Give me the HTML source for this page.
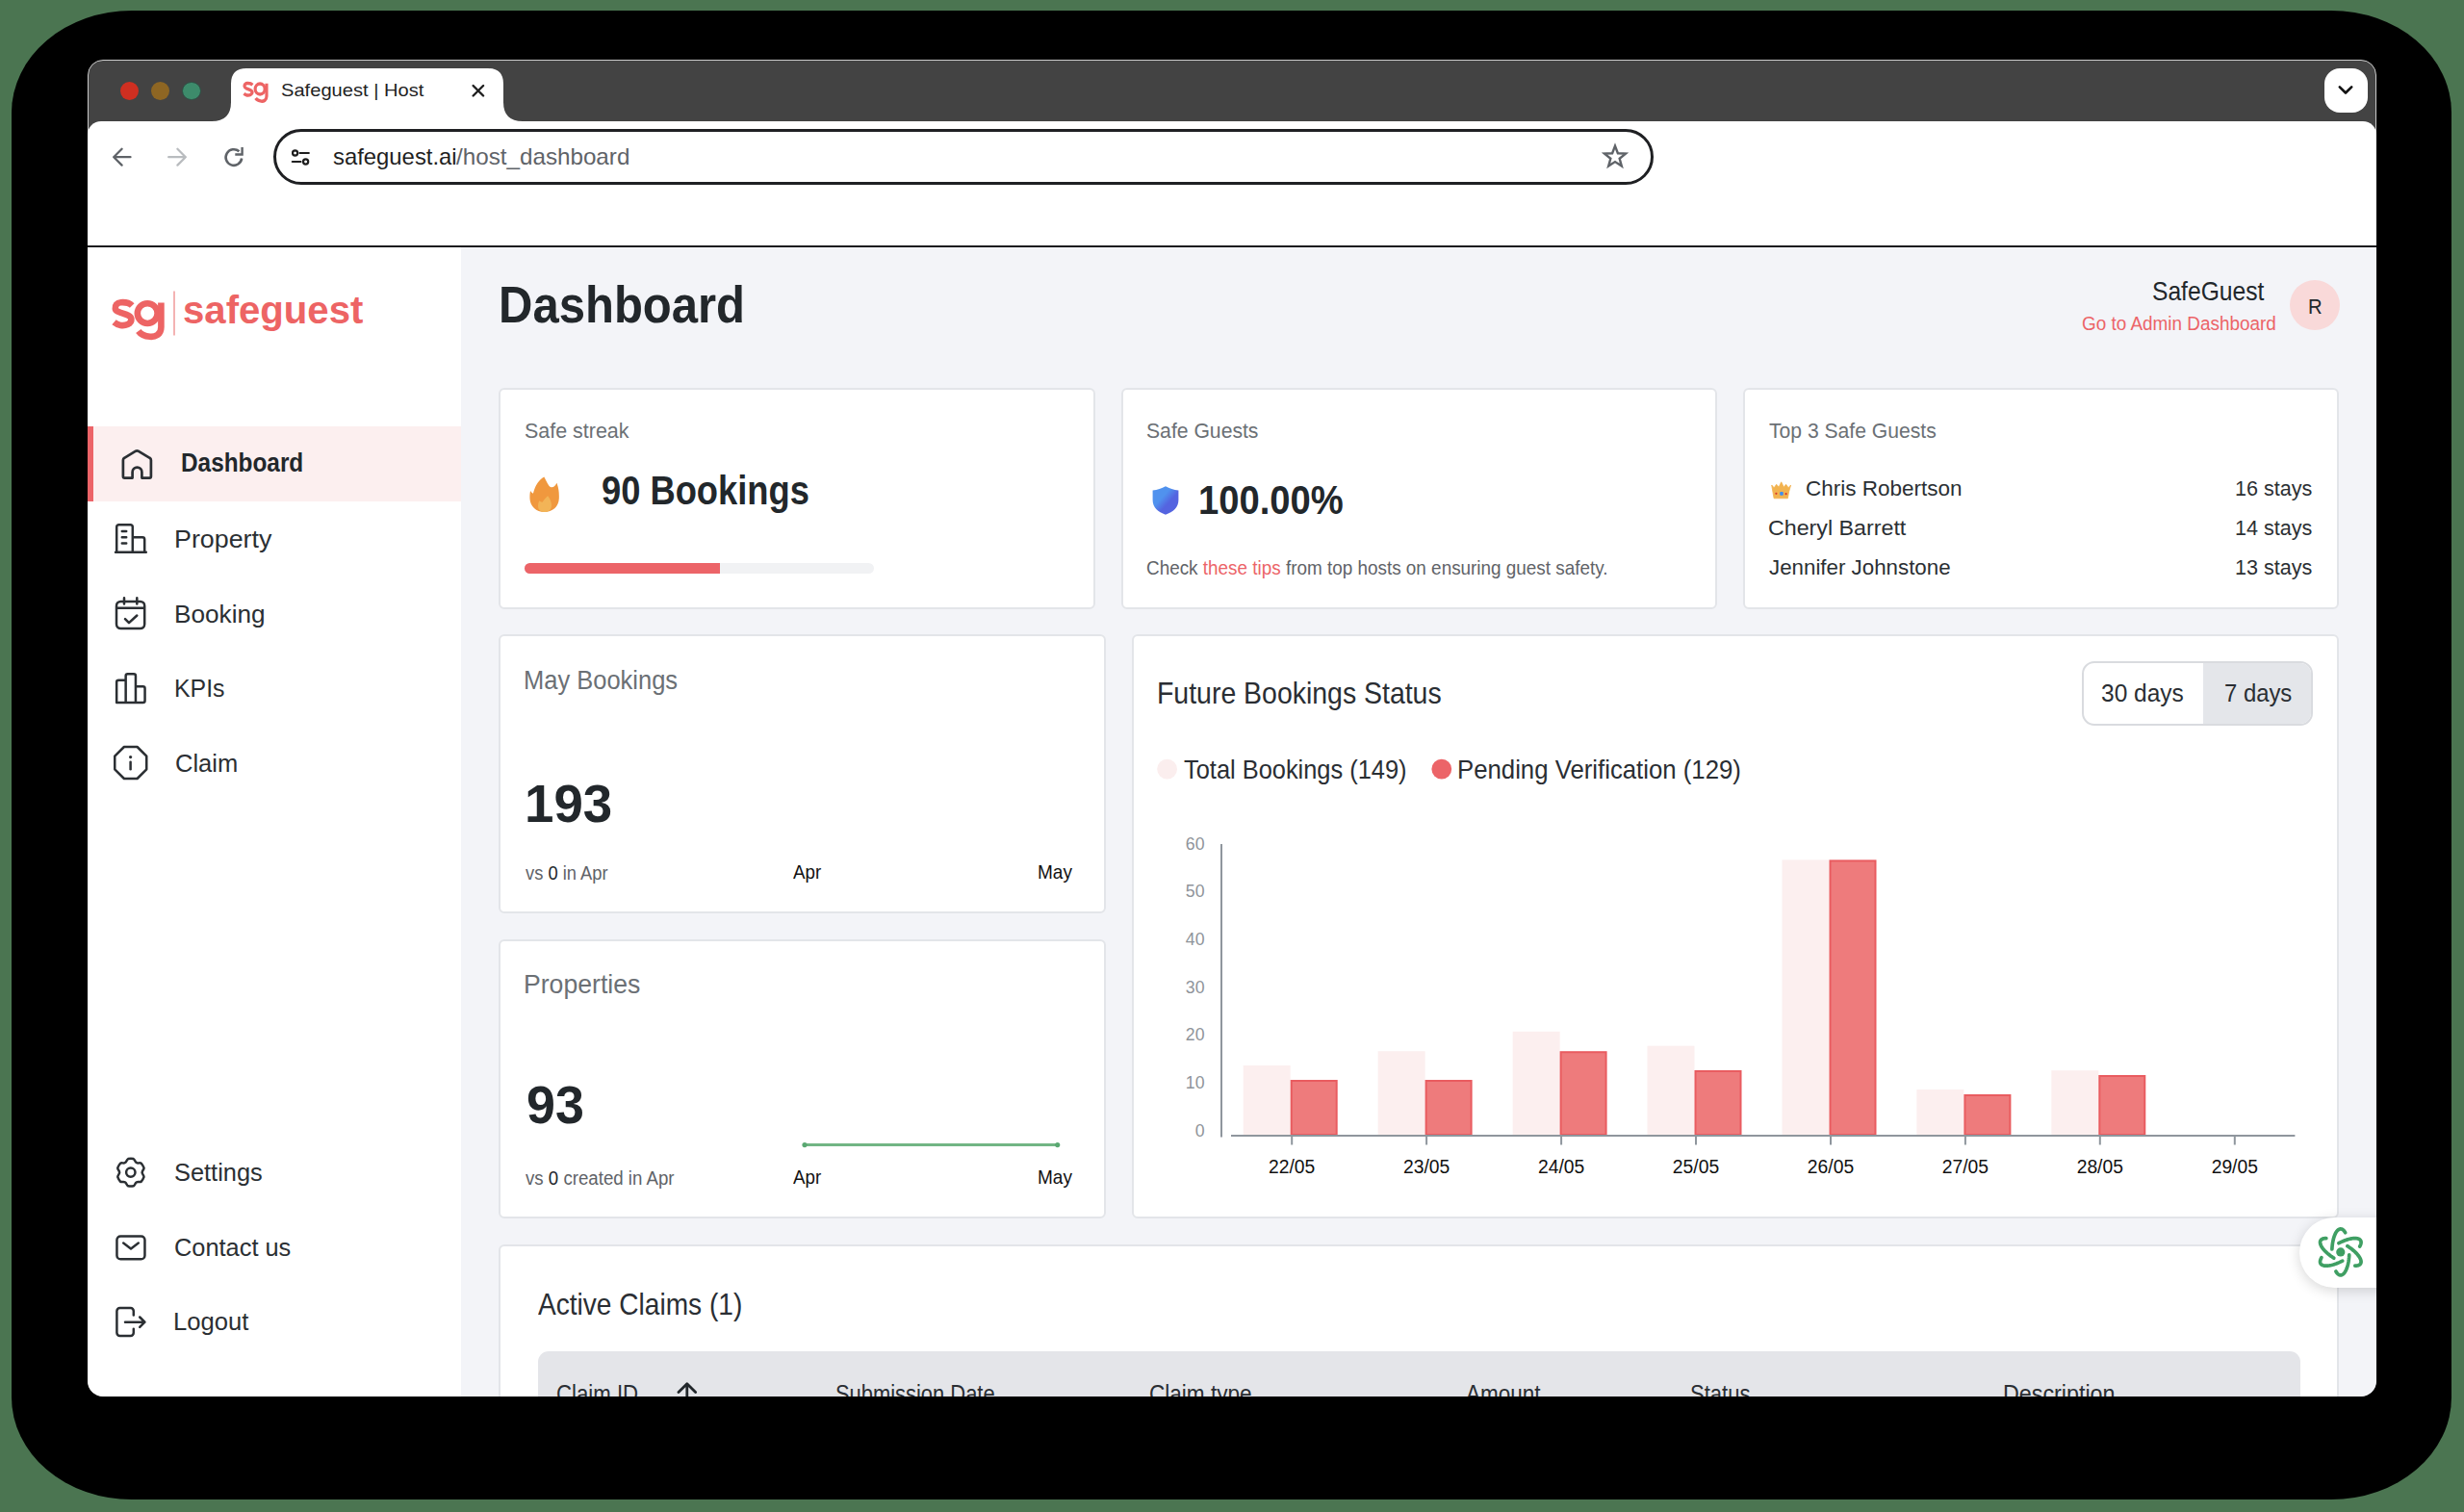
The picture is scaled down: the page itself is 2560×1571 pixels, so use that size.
<!DOCTYPE html>
<html><head><meta charset="utf-8"><title>Safeguest | Host</title>
<style>
*{margin:0;padding:0;box-sizing:border-box}
html,body{width:2560px;height:1571px;overflow:hidden;background:#4b7551;font-family:"Liberation Sans",sans-serif}
.a{position:absolute}
.t{position:absolute;white-space:nowrap}
.card{position:absolute;background:#fff;border:2px solid #e3e5e9;border-radius:6px}
</style></head><body>
<div class="a" style="left:12px;top:11px;width:2535px;height:1547px;border-radius:125px / 106px;background:#000"></div>
<div class="a" id="win" style="left:0;top:0;width:2560px;height:1571px;clip-path:inset(62px 91px 120px 91px round 16px)">
  <!-- titlebar -->
  <div class="a" style="left:91px;top:62px;width:2378px;height:80px;background:#434343"></div>
  <div class="a" style="left:91px;top:62px;width:2378px;height:1389px;border-radius:16px;border:1px solid #cbcbcb"></div>
  <div class="a" style="left:124.7px;top:84.8px;width:19.2px;height:19.2px;border-radius:50%;background:#cf2f21"></div>
  <div class="a" style="left:157.1px;top:84.8px;width:19.2px;height:19.2px;border-radius:50%;background:#8e6623"></div>
  <div class="a" style="left:189.4px;top:84.8px;width:19.2px;height:19.2px;border-radius:50%;background:#3d8b6b;border:1.5px solid #2f4f45"></div>
  <svg class="a" style="left:0;top:0" width="600" height="140"><path d="M220,126 Q240,126 240,106 L240,87 Q240,71 256,71 L507,71 Q523,71 523,87 L523,106 Q523,126 543,126 Z" fill="#fff"/></svg>
  <div class="a" style="left:2414.5px;top:71px;width:45px;height:45.5px;border-radius:16px;background:#fff"></div>
  <!-- toolbar -->
  <div class="a" style="left:91px;top:126px;width:2378px;height:129px;background:#fff;border-radius:14px 14px 0 0"></div>
  <div class="a" style="left:91px;top:255px;width:2378px;height:2px;background:#1c1c1e"></div>
  <div class="a" style="left:284px;top:134px;width:1434px;height:58px;border:3px solid #1f2023;border-radius:29px"></div>
  <!-- page -->
  <div class="a" style="left:91px;top:257px;width:388px;height:1200px;background:#fff"></div>
  <div class="a" style="left:479px;top:257px;width:1990px;height:1200px;background:#f3f4f8"></div>
  <div class="a" style="left:91px;top:443px;width:388px;height:78px;background:#fcefef"></div>
  <div class="a" style="left:91px;top:443px;width:6px;height:78px;background:#ec6468"></div>
  <!-- cards -->
  <div class="card" style="left:518px;top:403px;width:620px;height:230px"></div>
  <div class="card" style="left:1165px;top:403px;width:619px;height:230px"></div>
  <div class="card" style="left:1811px;top:403px;width:619px;height:230px"></div>
  <div class="card" style="left:518px;top:659px;width:631px;height:290px"></div>
  <div class="card" style="left:518px;top:976px;width:631px;height:290px"></div>
  <div class="card" style="left:1176px;top:659px;width:1254px;height:607px"></div>
  <div class="card" style="left:518px;top:1293px;width:1912px;height:300px"></div>
  <!-- progress -->
  <div class="a" style="left:545px;top:584.7px;width:363px;height:11px;border-radius:6px;background:#f1f2f4"></div>
  <div class="a" style="left:545px;top:584.7px;width:203.4px;height:11px;border-radius:6px 0 0 6px;background:#ec6468"></div>
  <!-- avatar -->
  <div class="a" style="left:2378.7px;top:290.7px;width:52px;height:52px;border-radius:50%;background:#f9d9d9"></div>
  <!-- toggle -->
  <div class="a" style="left:2162.8px;top:686.5px;width:240px;height:67px;border:2px solid #d9dbdf;border-radius:13px;background:#fff;overflow:hidden">
    <div class="a" style="left:124.4px;top:0;width:120px;height:67px;background:#e4e6ea"></div>
  </div>
  <!-- table header -->
  <div class="a" style="left:558.5px;top:1403.5px;width:1831.5px;height:80px;border-radius:11px;background:#e4e5e9"></div>
  <!-- chat btn -->
  <div class="a" style="left:2388.5px;top:1264.7px;width:150px;height:73.5px;border-radius:37px;background:#fff;box-shadow:0 3px 14px rgba(0,0,0,0.16)"></div>
  <svg class="a" style="left:0;top:0" width="2560" height="1571"><path d="M2422.87,1297.98 L2422.93,1296.77 L2423.02,1295.58 L2423.14,1294.41 L2423.27,1293.24 L2423.43,1292.10 L2423.60,1290.99 L2423.80,1289.89 L2424.02,1288.83 L2424.26,1287.79 L2424.52,1286.79 L2424.80,1285.83 L2425.09,1284.90 L2425.40,1284.02 L2425.73,1283.18 L2426.08,1282.38 L2426.43,1281.63 L2426.81,1280.93 L2427.19,1280.28 L2427.59,1279.69 L2428.00,1279.15 L2428.41,1278.66 L2428.84,1278.23 L2429.27,1277.86 L2429.71,1277.55 L2430.16,1277.30 L2430.61,1277.11 L2431.06,1276.98 L2431.52,1276.91 L2431.97,1276.90 L2432.43,1276.96 L2432.88,1277.07 L2433.33,1277.25 L2433.78,1277.49 L2434.22,1277.78 L2434.66,1278.14 L2435.08,1278.55 L2435.50,1279.03 L2435.91,1279.55 L2436.31,1280.14 L2436.70,1280.77 M2440.73,1303.82 L2440.67,1305.03 L2440.58,1306.22 L2440.46,1307.39 L2440.33,1308.56 L2440.17,1309.70 L2440.00,1310.81 L2439.80,1311.91 L2439.58,1312.97 L2439.34,1314.01 L2439.08,1315.01 L2438.80,1315.97 L2438.51,1316.90 L2438.20,1317.78 L2437.87,1318.62 L2437.52,1319.42 L2437.17,1320.17 L2436.79,1320.87 L2436.41,1321.52 L2436.01,1322.11 L2435.60,1322.65 L2435.19,1323.14 L2434.76,1323.57 L2434.33,1323.94 L2433.89,1324.25 L2433.44,1324.50 L2432.99,1324.69 L2432.54,1324.82 L2432.08,1324.89 L2431.63,1324.90 L2431.17,1324.84 L2430.72,1324.73 L2430.27,1324.55 L2429.82,1324.31 L2429.38,1324.02 L2428.94,1323.66 L2428.52,1323.25 L2428.10,1322.77 L2427.69,1322.25 L2427.29,1321.66 L2426.90,1321.03 M2429.87,1291.70 L2430.94,1291.16 L2432.02,1290.64 L2433.09,1290.15 L2434.16,1289.69 L2435.23,1289.25 L2436.29,1288.84 L2437.33,1288.47 L2438.37,1288.13 L2439.38,1287.82 L2440.38,1287.54 L2441.35,1287.30 L2442.30,1287.09 L2443.22,1286.92 L2444.11,1286.78 L2444.98,1286.68 L2445.80,1286.62 L2446.60,1286.59 L2447.35,1286.60 L2448.06,1286.65 L2448.74,1286.73 L2449.36,1286.85 L2449.95,1287.00 L2450.49,1287.19 L2450.98,1287.42 L2451.42,1287.68 L2451.81,1287.97 L2452.15,1288.30 L2452.43,1288.66 L2452.67,1289.05 L2452.85,1289.47 L2452.97,1289.92 L2453.05,1290.40 L2453.07,1290.91 L2453.03,1291.44 L2452.94,1291.99 L2452.79,1292.57 L2452.59,1293.17 L2452.34,1293.79 L2452.04,1294.43 L2451.68,1295.08 M2433.73,1310.10 L2432.66,1310.64 L2431.58,1311.16 L2430.51,1311.65 L2429.44,1312.11 L2428.37,1312.55 L2427.31,1312.96 L2426.27,1313.33 L2425.23,1313.67 L2424.22,1313.98 L2423.22,1314.26 L2422.25,1314.50 L2421.30,1314.71 L2420.38,1314.88 L2419.49,1315.02 L2418.62,1315.12 L2417.80,1315.18 L2417.00,1315.21 L2416.25,1315.20 L2415.54,1315.15 L2414.86,1315.07 L2414.24,1314.95 L2413.65,1314.80 L2413.11,1314.61 L2412.62,1314.38 L2412.18,1314.12 L2411.79,1313.83 L2411.45,1313.50 L2411.17,1313.14 L2410.93,1312.75 L2410.75,1312.33 L2410.63,1311.88 L2410.55,1311.40 L2410.53,1310.89 L2410.57,1310.36 L2410.66,1309.81 L2410.81,1309.23 L2411.01,1308.63 L2411.26,1308.01 L2411.56,1307.37 L2411.92,1306.72 M2438.80,1294.63 L2439.81,1295.28 L2440.79,1295.96 L2441.76,1296.64 L2442.69,1297.34 L2443.60,1298.05 L2444.48,1298.76 L2445.33,1299.48 L2446.14,1300.20 L2446.92,1300.92 L2447.66,1301.65 L2448.35,1302.37 L2449.01,1303.09 L2449.62,1303.80 L2450.18,1304.51 L2450.70,1305.20 L2451.17,1305.89 L2451.59,1306.56 L2451.96,1307.22 L2452.27,1307.86 L2452.54,1308.48 L2452.75,1309.09 L2452.91,1309.67 L2453.01,1310.23 L2453.06,1310.77 L2453.06,1311.28 L2453.00,1311.76 L2452.88,1312.22 L2452.72,1312.65 L2452.49,1313.05 L2452.22,1313.41 L2451.89,1313.75 L2451.52,1314.05 L2451.09,1314.32 L2450.61,1314.55 L2450.08,1314.75 L2449.51,1314.92 L2448.89,1315.04 L2448.23,1315.14 L2447.53,1315.19 L2446.78,1315.21 M2424.80,1307.17 L2423.79,1306.52 L2422.81,1305.84 L2421.84,1305.16 L2420.91,1304.46 L2420.00,1303.75 L2419.12,1303.04 L2418.27,1302.32 L2417.46,1301.60 L2416.68,1300.88 L2415.94,1300.15 L2415.25,1299.43 L2414.59,1298.71 L2413.98,1298.00 L2413.42,1297.29 L2412.90,1296.60 L2412.43,1295.91 L2412.01,1295.24 L2411.64,1294.58 L2411.33,1293.94 L2411.06,1293.32 L2410.85,1292.71 L2410.69,1292.13 L2410.59,1291.57 L2410.54,1291.03 L2410.54,1290.52 L2410.60,1290.04 L2410.72,1289.58 L2410.88,1289.15 L2411.11,1288.75 L2411.38,1288.39 L2411.71,1288.05 L2412.08,1287.75 L2412.51,1287.48 L2412.99,1287.25 L2413.52,1287.05 L2414.09,1286.88 L2414.71,1286.76 L2415.37,1286.66 L2416.07,1286.61 L2416.82,1286.59" fill="none" stroke="#3f9f63" stroke-width="3.7" stroke-linecap="round" stroke-linejoin="round"/><circle cx="2431.8" cy="1300.9" r="4.6" fill="#3f9f63"/></svg>
  <svg class="a" style="left:0;top:0" width="2560" height="1571" viewBox="0 0 2560 1571" font-family="Liberation Sans, sans-serif">
<!-- browser toolbar icons -->
<g fill="none" stroke="#5f6368" stroke-width="2.3" stroke-linecap="round" stroke-linejoin="round">
  <path d="M135.5,163.2 H118.2 M126.6,154.8 L118.2,163.2 L126.6,171.6"/>
  <path d="M248.45,157.33 A8.3,8.3 0 1 0 251.14,164.5" stroke-width="2.6" stroke-linecap="butt"/>
</g>
<path d="M244.3,160.5 H251.6 V153" fill="none" stroke="#5f6368" stroke-width="2.4" stroke-linejoin="miter"/>
<path d="M175.2,163.2 H192.8 M184.4,154.8 L192.8,163.2 L184.4,171.6" fill="none" stroke="#b9bcbf" stroke-width="2.3" stroke-linecap="round" stroke-linejoin="round"/>
<g fill="none" stroke="#1f1f1f" stroke-width="2.2" stroke-linecap="round">
  <circle cx="306.6" cy="159" r="2.6"/><path d="M311.5,159 H320.8"/>
  <path d="M303.8,168 H312.5"/><circle cx="317.6" cy="168" r="2.6"/>
</g>
<path d="M1678.00,151.60 L1680.88,159.24 L1689.03,159.62 L1682.66,164.71 L1684.82,172.58 L1678.00,168.10 L1671.18,172.58 L1673.34,164.71 L1666.97,159.62 L1675.12,159.24 Z" fill="none" stroke="#5f6368" stroke-width="2.4" stroke-linejoin="miter"/>
<path d="M2430.8,90.3 L2437,96.5 L2443.2,90.3" fill="none" stroke="#111" stroke-width="2.6" stroke-linecap="round" stroke-linejoin="round"/>
<path d="M491.6,89 L502.1,99.5 M502.1,89 L491.6,99.5" stroke="#1f1f1f" stroke-width="2.4" stroke-linecap="round"/>
<!-- sidebar icons -->
<g fill="none" stroke="#2b2f33" stroke-width="2.5" stroke-linecap="round" stroke-linejoin="round">
  <path d="M137.6,496.6 H129.5 Q127.9,496.6 127.9,495 V478 Q127.9,476.5 129.2,475.8 L141,468.7 Q142.3,468 143.6,468.7 L155.6,475.8 Q156.9,476.5 156.9,478 V495 Q156.9,496.6 155.3,496.6 H147.4 V490.5 A4.9,4.9 0 0 0 137.6,490.5 Z" stroke-width="2.7"/>
  <path d="M120,573.8 H151.8 M121.2,573.8 V547.5 A2.2,2.2 0 0 1 123.4,545.3 H135.6 A2.2,2.2 0 0 1 137.8,547.5 V573.8 M137.8,558.3 H148 A2.2,2.2 0 0 1 150.2,560.5 V573.8 M126.8,552 H131.2 M126.8,558.2 H131.2 M126.8,564.4 H131.2"/>
  <rect x="121" y="624.9" width="29.2" height="28.2" rx="4.5"/>
  <path d="M129,621.3 V627.5 M142.3,621.3 V627.5 M121.5,631.8 H149.8 M130,643.2 L134,647.2 L142.3,639.5"/>
  <path d="M121.15,729.95 V708.75 A2,2 0 0 1 123.15,706.75 H130.65 V702.15 A2,2 0 0 1 132.65,700.15 H138.95 A2,2 0 0 1 140.95,702.15 V713.35 H148.55 A2,2 0 0 1 150.55,715.35 V727.95 A2,2 0 0 1 148.55,729.95 Z M130.65,706.75 V729.95 M140.95,713.35 V729.95"/>
  <path d="M152.25,799.33 L142.58,809.00 L128.92,809.00 L119.25,799.33 L119.25,785.67 L128.92,776.00 L142.58,776.00 L152.25,785.67 Z"/>
  <path d="M135.6,791.8 V799.2"/>
  <path d="M138.65,1204.06 A14.40,14.40 0 0 0 133.15,1204.06 C131.54,1204.79 131.67,1207.18 130.00,1207.98 C128.47,1209.03 126.47,1207.72 125.03,1208.75 A14.40,14.40 0 0 0 122.28,1213.51 C122.11,1215.27 124.25,1216.35 124.10,1218.20 C124.25,1220.05 122.11,1221.13 122.28,1222.89 A14.40,14.40 0 0 0 125.03,1227.65 C126.47,1228.68 128.47,1227.37 130.00,1228.42 C131.67,1229.22 131.54,1231.61 133.15,1232.34 A14.40,14.40 0 0 0 138.65,1232.34 C140.26,1231.61 140.13,1229.22 141.80,1228.42 C143.33,1227.37 145.33,1228.68 146.77,1227.65 A14.40,14.40 0 0 0 149.52,1222.89 C149.69,1221.13 147.55,1220.05 147.70,1218.20 C147.55,1216.35 149.69,1215.27 149.52,1213.51 A14.40,14.40 0 0 0 146.77,1208.75 C145.33,1207.72 143.33,1209.03 141.80,1207.98 C140.13,1207.18 140.26,1204.79 138.65,1204.06 Z"/>
  <circle cx="135.8" cy="1218.1" r="4.7"/>
  <rect x="121.45" y="1284.55" width="29" height="23.8" rx="3.8"/>
  <path d="M128.2,1291.6 L136,1297.4 L143.8,1291.6"/>
  <path d="M138.8,1366.5 V1362.2 A3.2,3.2 0 0 0 135.6,1359 H124.6 A3.2,3.2 0 0 0 121.4,1362.2 V1384.8 A3.2,3.2 0 0 0 124.6,1388 H135.6 A3.2,3.2 0 0 0 138.8,1384.8 V1380.8"/>
  <path d="M130,1373.7 H150.4 M145.2,1368.5 L150.4,1373.7 L145.2,1378.9"/>
</g>
<circle cx="135.6" cy="786.6" r="1.6" fill="#2b2f33"/>
<!-- logo mark -->
<g id="sgmark"><g fill="none" stroke="#ed6464" stroke-width="6.6" stroke-linecap="butt">
  <path d="M137.2,317.5 C134.5,314.8 129.5,313.9 125.5,314.2 C121.3,314.6 119.5,317.5 119.8,320.6 C120.3,326 136,325.4 136.4,331.5 C136.8,337 130,338.6 125.2,337.9 C122.6,337.5 120.5,336.5 118.5,334.8"/>
  <circle cx="153.2" cy="325.6" r="10.4"/>
  <path d="M167.4,314.5 V340 C167.4,348 161,350.2 155.8,349.8 C150.6,349.4 146.4,347.6 143.8,344"/>
</g>
</g>
<g transform="translate(252.4,84.8) scale(0.482,0.523) translate(-116.4,-310.9)"><g fill="none" stroke="#ed6464" stroke-width="6.6" stroke-linecap="butt">
  <path d="M137.2,317.5 C134.5,314.8 129.5,313.9 125.5,314.2 C121.3,314.6 119.5,317.5 119.8,320.6 C120.3,326 136,325.4 136.4,331.5 C136.8,337 130,338.6 125.2,337.9 C122.6,337.5 120.5,336.5 118.5,334.8"/>
  <circle cx="153.2" cy="325.6" r="10.4"/>
  <path d="M167.4,314.5 V340 C167.4,348 161,350.2 155.8,349.8 C150.6,349.4 146.4,347.6 143.8,344"/>
</g>
</g>
<path d="M181,302.5 V348.5" stroke="#f2a0a0" stroke-width="1.6"/>
<!-- fire emoji -->
<path d="M565.3,495.4 C568,500 569.5,504.5 572,506 C574.5,507 577,505 578.5,501.7 C580.5,507 581,512 580.8,518 C580.5,526.5 574,532 565.5,532 C557,532 551,526 550.5,518.5 C550.3,515 550.6,512 551.1,510 C552,511.5 553,512.6 554,512.6 C555.5,506 559,499 565.3,495.4 Z" fill="#f0983e"/>
<path d="M569.1,515.2 C571.5,518 573,521.5 573,525 C573,529.5 570,532 566,532 C561.5,532 559,529.5 559,526 C559,523.5 559.7,521.5 560.4,520.3 C561.5,521.5 562.5,522 563.6,521.7 C565,519.5 567,517 569.1,515.2 Z" fill="#f2b457"/>
<!-- shield -->
<defs><linearGradient id="sg" x1="0" y1="0" x2="1" y2="1"><stop offset="0.38" stop-color="#5092ee"/><stop offset="0.6" stop-color="#5464e0"/></linearGradient></defs>
<path d="M1211,505.2 C1215,507.5 1219.5,509 1224.4,509.5 V519.5 C1224.4,527 1219,532 1211,534.7 C1203,532 1197.6,527 1197.6,519.5 V509.5 C1202.5,509 1207,507.5 1211,505.2 Z" fill="url(#sg)"/>
<!-- crown -->
<path d="M1840.7,504 L1843.2,506.8 L1845.7,503.3 L1848.1,506.2 L1850.7,500.8 L1853.3,506.2 L1855.6,503.3 L1858.1,506.8 L1860.6,504 L1858.6,511 L1857.4,517.8 H1843.1 L1841.9,511 Z" fill="#f2b34f" stroke="#f2b34f" stroke-width="0.8" stroke-linejoin="round"/>
<rect x="1849.2" y="511" width="3.6" height="3.8" rx="1" fill="#3d8ef0"/><circle cx="1845.4" cy="512.8" r="1.1" fill="#d93a2a"/><circle cx="1855.6" cy="513.2" r="1.1" fill="#d93a2a"/>
<!-- legend -->
<circle cx="1212.6" cy="799.1" r="10.4" fill="#fbeeee"/>
<circle cx="1497.8" cy="799.1" r="10.4" fill="#ec6468"/>
<!-- chart -->
<rect x="1291.7" y="1107" width="49" height="72.0" fill="#fcefef"/><rect x="1341.7" y="1123" width="47" height="56.0" fill="#ee7b7c" stroke="#e95c60" stroke-width="2"/><rect x="1431.6" y="1092.2" width="49" height="86.8" fill="#fcefef"/><rect x="1481.6" y="1123" width="47" height="56.0" fill="#ee7b7c" stroke="#e95c60" stroke-width="2"/><rect x="1571.6" y="1071.8" width="49" height="107.2" fill="#fcefef"/><rect x="1621.6" y="1093.2" width="47" height="85.8" fill="#ee7b7c" stroke="#e95c60" stroke-width="2"/><rect x="1711.5" y="1086.7" width="49" height="92.3" fill="#fcefef"/><rect x="1761.5" y="1113" width="47" height="66.0" fill="#ee7b7c" stroke="#e95c60" stroke-width="2"/><rect x="1851.5" y="893.4" width="49" height="285.6" fill="#fcefef"/><rect x="1901.5" y="894.4" width="47" height="284.6" fill="#ee7b7c" stroke="#e95c60" stroke-width="2"/><rect x="1991.4" y="1132" width="49" height="47.0" fill="#fcefef"/><rect x="2041.4" y="1138" width="47" height="41.0" fill="#ee7b7c" stroke="#e95c60" stroke-width="2"/><rect x="2131.3" y="1112.2" width="49" height="66.8" fill="#fcefef"/><rect x="2181.3" y="1118" width="47" height="61.0" fill="#ee7b7c" stroke="#e95c60" stroke-width="2"/>
<line x1="1269" y1="877" x2="1269" y2="1181.5" stroke="#8f969d" stroke-width="2"/>
<line x1="1279" y1="1180" x2="2384.4" y2="1180" stroke="#8f969d" stroke-width="2"/>
<line x1="1342.2" y1="1181" x2="1342.2" y2="1189.5" stroke="#8f969d" stroke-width="2"/><line x1="1482.1" y1="1181" x2="1482.1" y2="1189.5" stroke="#8f969d" stroke-width="2"/><line x1="1622.1" y1="1181" x2="1622.1" y2="1189.5" stroke="#8f969d" stroke-width="2"/><line x1="1762.0" y1="1181" x2="1762.0" y2="1189.5" stroke="#8f969d" stroke-width="2"/><line x1="1902.0" y1="1181" x2="1902.0" y2="1189.5" stroke="#8f969d" stroke-width="2"/><line x1="2041.9" y1="1181" x2="2041.9" y2="1189.5" stroke="#8f969d" stroke-width="2"/><line x1="2181.8" y1="1181" x2="2181.8" y2="1189.5" stroke="#8f969d" stroke-width="2"/><line x1="2321.8" y1="1181" x2="2321.8" y2="1189.5" stroke="#8f969d" stroke-width="2"/>
<text x="1251.5" y="882.7" text-anchor="end" font-size="17.7" fill="#8f949a">60</text><text x="1251.5" y="932.4" text-anchor="end" font-size="17.7" fill="#8f949a">50</text><text x="1251.5" y="982.0" text-anchor="end" font-size="17.7" fill="#8f949a">40</text><text x="1251.5" y="1031.7" text-anchor="end" font-size="17.7" fill="#8f949a">30</text><text x="1251.5" y="1081.4" text-anchor="end" font-size="17.7" fill="#8f949a">20</text><text x="1251.5" y="1131.0" text-anchor="end" font-size="17.7" fill="#8f949a">10</text><text x="1251.5" y="1180.7" text-anchor="end" font-size="17.7" fill="#8f949a">0</text>
<text x="1342.2" y="1219.4" text-anchor="middle" font-size="19.3" fill="#111">22/05</text><text x="1482.1" y="1219.4" text-anchor="middle" font-size="19.3" fill="#111">23/05</text><text x="1622.1" y="1219.4" text-anchor="middle" font-size="19.3" fill="#111">24/05</text><text x="1762.0" y="1219.4" text-anchor="middle" font-size="19.3" fill="#111">25/05</text><text x="1902.0" y="1219.4" text-anchor="middle" font-size="19.3" fill="#111">26/05</text><text x="2041.9" y="1219.4" text-anchor="middle" font-size="19.3" fill="#111">27/05</text><text x="2181.8" y="1219.4" text-anchor="middle" font-size="19.3" fill="#111">28/05</text><text x="2321.8" y="1219.4" text-anchor="middle" font-size="19.3" fill="#111">29/05</text>
<path d="M713.8,1438.5 V1452 M705,1446.5 L713.8,1437.8 L722.6,1446.5" fill="none" stroke="#22272b" stroke-width="2.8" stroke-linecap="round" stroke-linejoin="round"/>
<!-- properties sparkline -->
<line x1="836" y1="1189.6" x2="1098.7" y2="1189.6" stroke="#72b584" stroke-width="3"/>
<circle cx="836" cy="1189.6" r="2.6" fill="#5aa872"/><circle cx="1098.7" cy="1189.6" r="2.6" fill="#5aa872"/>
</svg>
  <div class="t" style="left:292.40px;top:84.02px;font-size:19px;line-height:19px;font-weight:400;color:#1f1f1f;transform:scaleX(1.0586);transform-origin:0 0">Safeguest | Host</div>
<div class="t" style="left:345.70px;top:150.68px;font-size:24px;line-height:24px;font-weight:400;color:#1f1f1f;transform:scaleX(0.9938);transform-origin:0 0">safeguest.ai</div>
<div class="t" style="left:474.00px;top:150.68px;font-size:24px;line-height:24px;font-weight:400;color:#5f6368;transform:scaleX(1.0087);transform-origin:0 0">/host_dashboard</div>
<div class="t" style="left:190.00px;top:301.84px;font-size:40px;line-height:40px;font-weight:700;color:#ed6464;transform:scaleX(1.0031);transform-origin:0 0">safeguest</div>
<div class="t" style="left:187.90px;top:468.44px;font-size:27px;line-height:27px;font-weight:700;color:#22272b;transform:scaleX(0.9023);transform-origin:0 0">Dashboard</div>
<div class="t" style="left:180.69px;top:546.60px;font-size:26.7px;line-height:26.7px;font-weight:400;color:#2b2f33;transform:scaleX(1.0049);transform-origin:0 0">Property</div>
<div class="t" style="left:180.74px;top:624.50px;font-size:26.7px;line-height:26.7px;font-weight:400;color:#2b2f33;transform:scaleX(0.9808);transform-origin:0 0">Booking</div>
<div class="t" style="left:180.84px;top:702.40px;font-size:26.7px;line-height:26.7px;font-weight:400;color:#2b2f33;transform:scaleX(0.9312);transform-origin:0 0">KPIs</div>
<div class="t" style="left:181.74px;top:779.90px;font-size:26.7px;line-height:26.7px;font-weight:400;color:#2b2f33;transform:scaleX(0.9564);transform-origin:0 0">Claim</div>
<div class="t" style="left:181.05px;top:1205.20px;font-size:26.7px;line-height:26.7px;font-weight:400;color:#2b2f33;transform:scaleX(0.9507);transform-origin:0 0">Settings</div>
<div class="t" style="left:181.05px;top:1282.80px;font-size:26.7px;line-height:26.7px;font-weight:400;color:#2b2f33;transform:scaleX(0.9506);transform-origin:0 0">Contact us</div>
<div class="t" style="left:180.08px;top:1360.20px;font-size:26.7px;line-height:26.7px;font-weight:400;color:#2b2f33;transform:scaleX(0.9600);transform-origin:0 0">Logout</div>
<div class="t" style="left:517.50px;top:290.27px;font-size:54.5px;line-height:54.5px;font-weight:700;color:#22272b;transform:scaleX(0.8995);transform-origin:0 0">Dashboard</div>
<div class="t" style="left:2236.48px;top:289.53px;font-size:26.9px;line-height:26.9px;font-weight:400;color:#22272b;transform:scaleX(0.9156);transform-origin:0 0">SafeGuest</div>
<div class="t" style="left:2162.80px;top:326.71px;font-size:19.6px;line-height:19.6px;font-weight:400;color:#ec6468;transform:scaleX(0.9651);transform-origin:0 0">Go to Admin Dashboard</div>
<div class="t" style="left:2397.57px;top:307.55px;font-size:21.8px;line-height:21.8px;font-weight:400;color:#22272b;transform:scaleX(0.9286);transform-origin:0 0">R</div>
<div class="t" style="left:544.63px;top:436.81px;font-size:22.2px;line-height:22.2px;font-weight:400;color:#6b7075;transform:scaleX(0.9667);transform-origin:0 0">Safe streak</div>
<div class="t" style="left:625.15px;top:487.59px;font-size:42.9px;line-height:42.9px;font-weight:700;color:#22272b;transform:scaleX(0.8465);transform-origin:0 0">90 Bookings</div>
<div class="t" style="left:1191.05px;top:436.81px;font-size:22.2px;line-height:22.2px;font-weight:400;color:#6b7075;transform:scaleX(0.9537);transform-origin:0 0">Safe Guests</div>
<div class="t" style="left:1244.77px;top:499.40px;font-size:41.7px;line-height:41.7px;font-weight:700;color:#22272b;transform:scaleX(0.9158);transform-origin:0 0">100.00%</div>
<div class="t" style="left:1191.08px;top:580.16px;font-size:20.6px;line-height:20.6px;font-weight:400;color:#5f6368;transform:scaleX(0.9173);transform-origin:0 0"><span style="color:#5f6368">Check </span><span style="color:#ec6468">these tips</span><span style="color:#5f6368"> from top hosts on ensuring guest safety.</span></div>
<div class="t" style="left:1838.20px;top:436.81px;font-size:22.2px;line-height:22.2px;font-weight:400;color:#6b7075;transform:scaleX(0.9515);transform-origin:0 0">Top 3 Safe Guests</div>
<div class="t" style="left:1876.01px;top:496.18px;font-size:22.7px;line-height:22.7px;font-weight:400;color:#2b2f33;transform:scaleX(0.9907);transform-origin:0 0">Chris Robertson</div>
<div class="t" style="left:2322.05px;top:496.18px;font-size:22.7px;line-height:22.7px;font-weight:400;color:#2b2f33;transform:scaleX(0.9501);transform-origin:0 0">16 stays</div>
<div class="t" style="left:1836.98px;top:536.78px;font-size:22.7px;line-height:22.7px;font-weight:400;color:#2b2f33;transform:scaleX(1.0240);transform-origin:0 0">Cheryl Barrett</div>
<div class="t" style="left:2322.05px;top:536.78px;font-size:22.7px;line-height:22.7px;font-weight:400;color:#2b2f33;transform:scaleX(0.9501);transform-origin:0 0">14 stays</div>
<div class="t" style="left:1838.00px;top:577.58px;font-size:22.7px;line-height:22.7px;font-weight:400;color:#2b2f33;transform:scaleX(0.9838);transform-origin:0 0">Jennifer Johnstone</div>
<div class="t" style="left:2322.05px;top:577.58px;font-size:22.7px;line-height:22.7px;font-weight:400;color:#2b2f33;transform:scaleX(0.9501);transform-origin:0 0">13 stays</div>
<div class="t" style="left:544.14px;top:692.61px;font-size:27.4px;line-height:27.4px;font-weight:400;color:#6b7075;transform:scaleX(0.9307);transform-origin:0 0">May Bookings</div>
<div class="t" style="left:545.27px;top:806.90px;font-size:56px;line-height:56px;font-weight:700;color:#22272b;transform:scaleX(0.9755);transform-origin:0 0">193</div>
<div class="t" style="left:544.06px;top:1009.11px;font-size:27.4px;line-height:27.4px;font-weight:400;color:#6b7075;transform:scaleX(0.9718);transform-origin:0 0">Properties</div>
<div class="t" style="left:547.04px;top:1120.20px;font-size:56px;line-height:56px;font-weight:700;color:#22272b;transform:scaleX(0.9610);transform-origin:0 0">93</div>
<div class="t" style="left:546.00px;top:898.09px;font-size:19.5px;line-height:19.5px;font-weight:400;color:#5f6368;transform:scaleX(0.9393);transform-origin:0 0"><span style="color:#5f6368">vs </span><span style="color:#22272b">0</span><span style="color:#5f6368"> in Apr</span></div>
<div class="t" style="left:546.00px;top:1215.39px;font-size:19.5px;line-height:19.5px;font-weight:400;color:#5f6368;transform:scaleX(0.9566);transform-origin:0 0"><span style="color:#5f6368">vs </span><span style="color:#22272b">0</span><span style="color:#5f6368"> created in Apr</span></div>
<div class="t" style="left:823.60px;top:896.02px;font-size:20.3px;line-height:20.3px;font-weight:400;color:#111111;transform:scaleX(0.9243);transform-origin:0 0">Apr</div>
<div class="t" style="left:1078.06px;top:896.02px;font-size:20.3px;line-height:20.3px;font-weight:400;color:#111111;transform:scaleX(0.9378);transform-origin:0 0">May</div>
<div class="t" style="left:823.60px;top:1213.42px;font-size:20.3px;line-height:20.3px;font-weight:400;color:#111111;transform:scaleX(0.9243);transform-origin:0 0">Apr</div>
<div class="t" style="left:1078.06px;top:1213.42px;font-size:20.3px;line-height:20.3px;font-weight:400;color:#111111;transform:scaleX(0.9378);transform-origin:0 0">May</div>
<div class="t" style="left:1201.87px;top:705.27px;font-size:31.1px;line-height:31.1px;font-weight:400;color:#2a2e33;transform:scaleX(0.9147);transform-origin:0 0">Future Bookings Status</div>
<div class="t" style="left:1230.00px;top:785.69px;font-size:27.3px;line-height:27.3px;font-weight:400;color:#2a2e33;transform:scaleX(0.9304);transform-origin:0 0">Total Bookings (149)</div>
<div class="t" style="left:1514.41px;top:785.69px;font-size:27.3px;line-height:27.3px;font-weight:400;color:#2a2e33;transform:scaleX(0.9434);transform-origin:0 0">Pending Verification (129)</div>
<div class="t" style="left:2183.48px;top:707.10px;font-size:26.7px;line-height:26.7px;font-weight:400;color:#2a2e33;transform:scaleX(0.9183);transform-origin:0 0">30 days</div>
<div class="t" style="left:2310.81px;top:707.10px;font-size:26.7px;line-height:26.7px;font-weight:400;color:#2a2e33;transform:scaleX(0.8941);transform-origin:0 0">7 days</div>
<div class="t" style="left:559.00px;top:1340.09px;font-size:31.2px;line-height:31.2px;font-weight:400;color:#2a2e33;transform:scaleX(0.9006);transform-origin:0 0">Active Claims (1)</div>
<div class="t" style="left:577.77px;top:1434.90px;font-size:26.7px;line-height:26.7px;font-weight:400;color:#2a2e33;transform:scaleX(0.8317);transform-origin:0 0">Claim ID</div>
<div class="t" style="left:867.68px;top:1434.90px;font-size:26.7px;line-height:26.7px;font-weight:400;color:#2a2e33;transform:scaleX(0.8209);transform-origin:0 0">Submission Date</div>
<div class="t" style="left:1193.75px;top:1434.90px;font-size:26.7px;line-height:26.7px;font-weight:400;color:#2a2e33;transform:scaleX(0.8453);transform-origin:0 0">Claim type</div>
<div class="t" style="left:1522.80px;top:1434.90px;font-size:26.7px;line-height:26.7px;font-weight:400;color:#2a2e33;transform:scaleX(0.8438);transform-origin:0 0">Amount</div>
<div class="t" style="left:1756.18px;top:1434.90px;font-size:26.7px;line-height:26.7px;font-weight:400;color:#2a2e33;transform:scaleX(0.8249);transform-origin:0 0">Status</div>
<div class="t" style="left:2081.25px;top:1434.90px;font-size:26.7px;line-height:26.7px;font-weight:400;color:#2a2e33;transform:scaleX(0.8726);transform-origin:0 0">Description</div>
</div>
</body></html>
